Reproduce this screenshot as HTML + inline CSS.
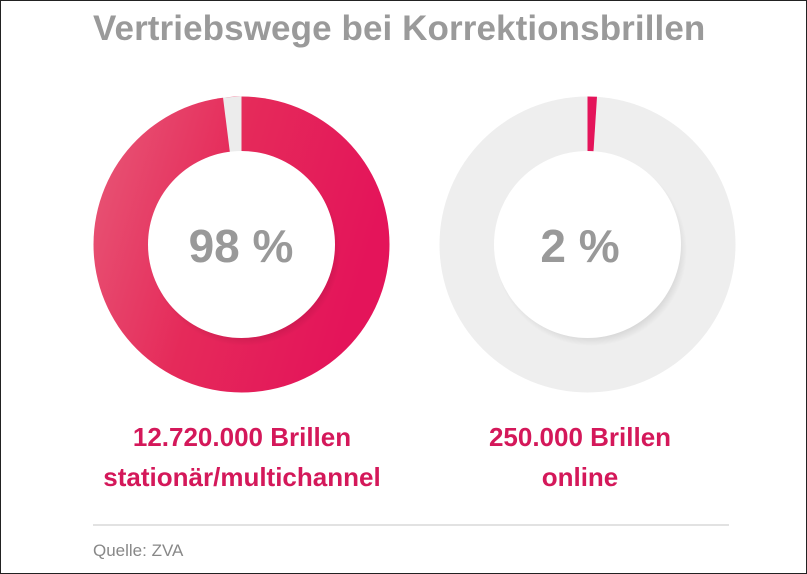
<!DOCTYPE html>
<html><head><meta charset="utf-8"><style>
body{margin:0;width:807px;height:574px;overflow:hidden;background:#fff;font-family:"Liberation Sans",sans-serif}
.frame{position:absolute;left:0;top:0;width:805px;height:572px;border:1px solid #222}
.t{position:absolute;white-space:nowrap}
</style></head><body>
<div class="frame"></div>
<div class="t" style="left:93px;top:9px;font-size:35px;font-weight:bold;color:#9a9a9a;letter-spacing:0.1px">Vertriebswege bei Korrektionsbrillen</div>
<svg width="807" height="574" style="position:absolute;left:0;top:0">
<defs>
<linearGradient id="g1" x1="0" y1="0" x2="1" y2="0.3">
<stop offset="0" stop-color="#e85a78"/><stop offset="0.5" stop-color="#e52a5a"/><stop offset="1" stop-color="#e4145a"/></linearGradient>
<radialGradient id="sh" cx="0.5" cy="0.5" r="0.5">
<stop offset="0.6" stop-color="#000" stop-opacity="0.25"/><stop offset="0.8" stop-color="#000" stop-opacity="0"/></radialGradient>
</defs>
<circle cx="241.5" cy="244.5" r="148" fill="url(#g1)"/>
<path d="M241.5,244.5 L241.5,96.5 L223,97.5 Z" fill="#ececec"/>
<circle cx="245" cy="250" r="120" fill="url(#sh)"/>
<circle cx="241.5" cy="244.5" r="93.5" fill="#fff"/>
<circle cx="587.5" cy="244.5" r="148" fill="#eeeeee"/>
<path d="M587.5,244.5 L587.5,96.5 L597,96.8 Z" fill="#e4145a"/>
<circle cx="591" cy="250" r="120" fill="url(#sh)"/>
<circle cx="587.5" cy="244.5" r="93.5" fill="#fff"/>
<text x="241" y="262" text-anchor="middle" font-size="46" font-weight="bold" fill="#999" font-family="Liberation Sans">98 %</text>
<text x="580" y="262" text-anchor="middle" font-size="46" font-weight="bold" fill="#999" font-family="Liberation Sans">2 %</text>
<g font-size="26" font-weight="bold" fill="#d4185a" text-anchor="middle" font-family="Liberation Sans">
<text x="242" y="446">12.720.000 Brillen</text>
<text x="242" y="486">stationär/multichannel</text>
<text x="580" y="446">250.000 Brillen</text>
<text x="580" y="486">online</text>
</g>
<rect x="93" y="524" width="636" height="2" fill="#e2e2e2"/>
<text x="93" y="556" font-size="17" fill="#888" font-family="Liberation Sans">Quelle: ZVA</text>
</svg>
</body></html>
